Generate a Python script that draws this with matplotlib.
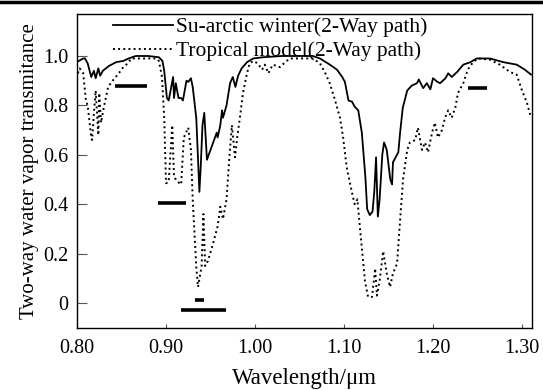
import matplotlib
matplotlib.use('Agg')
import matplotlib.pyplot as plt
from matplotlib.lines import Line2D

plt.rcParams['font.family'] = ['Liberation Serif', 'DejaVu Serif']
plt.rcParams['mathtext.fontset'] = 'stix'

# Sub-arctic winter, 2-way path (solid)
arctic_wl = [0.802, 0.807, 0.809, 0.812, 0.816, 0.819, 0.821, 0.824, 0.826, 0.829,
             0.836, 0.844, 0.852, 0.858, 0.866, 0.880, 0.892, 0.896, 0.898, 0.901,
             0.903, 0.908, 0.909, 0.911, 0.914, 0.917, 0.919, 0.923, 0.925, 0.928,
             0.930, 0.934, 0.936, 0.9375, 0.939, 0.941, 0.943, 0.946, 0.950, 0.953,
             0.957, 0.958, 0.961, 0.963, 0.964, 0.968, 0.972, 0.975, 0.978, 0.981,
             0.985, 0.991, 0.998, 1.009, 1.030, 1.065, 1.073, 1.084, 1.092, 1.098,
             1.101, 1.105, 1.109, 1.112, 1.116, 1.120, 1.124, 1.126, 1.129, 1.132,
             1.134, 1.136, 1.138, 1.140, 1.143, 1.145, 1.148, 1.152, 1.154, 1.155,
             1.161, 1.163, 1.166, 1.171, 1.176, 1.182, 1.184, 1.189, 1.193, 1.197,
             1.200, 1.205, 1.208, 1.214, 1.217, 1.221, 1.227, 1.234, 1.242, 1.249,
             1.264, 1.279, 1.294, 1.303, 1.310]
arctic_tr = [0.98, 0.99, 0.99, 0.97, 0.915, 0.94, 0.91, 0.95, 0.92, 0.94,
             0.96, 0.975, 0.98, 0.99, 1.0, 1.0, 0.995, 0.98, 0.94, 0.83,
             0.82, 0.915, 0.83, 0.89, 0.83, 0.83, 0.82, 0.90, 0.895, 0.91,
             0.875, 0.75, 0.58, 0.45, 0.55, 0.72, 0.77, 0.58, 0.62, 0.65,
             0.69, 0.67, 0.72, 0.78, 0.75, 0.80, 0.89, 0.915, 0.875, 0.92,
             0.95, 0.975, 0.99, 0.995, 1.0, 1.0, 0.99, 0.965, 0.945, 0.915,
             0.895, 0.82, 0.815, 0.795, 0.78, 0.69, 0.51, 0.38, 0.356, 0.37,
             0.45, 0.59, 0.35, 0.42, 0.60, 0.65, 0.62, 0.50, 0.48, 0.57,
             0.61, 0.69, 0.79, 0.86, 0.88, 0.89, 0.905, 0.87, 0.89, 0.865,
             0.91, 0.895, 0.89, 0.91, 0.93, 0.915, 0.935, 0.965, 0.975, 0.99,
             0.99, 0.975, 0.965, 0.945, 0.925]

# Tropical model, 2-way path (dotted)
tropic_wl = [0.801, 0.803, 0.807, 0.810, 0.812, 0.816, 0.817, 0.819, 0.821, 0.824,
             0.825, 0.827, 0.830, 0.835, 0.840, 0.847, 0.852, 0.857, 0.861, 0.889,
             0.892, 0.8955, 0.898, 0.900, 0.903, 0.907, 0.909, 0.9135, 0.917, 0.920,
             0.925, 0.928, 0.930, 0.934, 0.936, 0.940, 0.942, 0.944, 0.947, 0.952,
             0.955, 0.958, 0.961, 0.964, 0.968, 0.971, 0.974, 0.9775, 0.980, 0.983,
             0.9865, 0.991, 0.994, 0.998, 1.003, 1.008, 1.011, 1.015, 1.020, 1.028,
             1.034, 1.039, 1.065, 1.073, 1.079, 1.084, 1.090, 1.0955, 1.099, 1.103,
             1.107, 1.110, 1.112, 1.115, 1.118, 1.1235, 1.127, 1.1315, 1.135, 1.137,
             1.140, 1.144, 1.148, 1.1517, 1.155, 1.1596, 1.1629, 1.1663, 1.171, 1.174,
             1.180, 1.183, 1.1876, 1.191, 1.1944, 1.1989, 1.202, 1.2056, 1.210, 1.2135,
             1.217, 1.221, 1.225, 1.228, 1.234, 1.239, 1.245, 1.2506, 1.264, 1.275,
             1.2865, 1.294, 1.300, 1.3056, 1.310]
tropic_tr = [0.93, 0.95, 0.93, 0.82, 0.80, 0.67, 0.66, 0.77, 0.86, 0.68,
             0.85, 0.73, 0.79, 0.875, 0.90, 0.93, 0.955, 0.97, 0.99, 0.99,
             0.98, 0.915, 0.75, 0.485, 0.49, 0.72, 0.51, 0.49, 0.48, 0.67,
             0.71, 0.62, 0.42, 0.146, 0.065, 0.15, 0.36, 0.15, 0.17, 0.23,
             0.27, 0.31, 0.39, 0.34, 0.42, 0.58, 0.72, 0.59, 0.67, 0.75,
             0.85, 0.93, 0.97, 0.98, 0.97, 0.945, 0.965, 0.93, 0.965, 0.955,
             0.975, 0.99, 0.99, 0.97, 0.93, 0.89, 0.82, 0.75, 0.67, 0.55,
             0.48, 0.43, 0.40, 0.42, 0.30, 0.09, 0.025, 0.025, 0.14, 0.03,
             0.09, 0.21, 0.12, 0.065, 0.12, 0.16, 0.33, 0.50, 0.62, 0.65,
             0.66, 0.71, 0.62, 0.65, 0.61, 0.69, 0.73, 0.67, 0.70, 0.75,
             0.78, 0.75, 0.79, 0.85, 0.89, 0.945, 0.975, 0.99, 0.985, 0.965,
             0.935, 0.925, 0.86, 0.81, 0.75]

# thick band markers (start, end, level)
band_start = [0.843, 0.891, 0.9326, 0.917, 1.2393]
band_end = [0.879, 0.9225, 0.9427, 0.9674, 1.2607]
band_level = [0.88, 0.405, 0.012, -0.028, 0.87]

xticks = [0.80, 0.90, 1.00, 1.10, 1.20, 1.30]
xtick_labels = ['0.80', '0.90', '1.00', '1.10', '1.20', '1.30']
yticks = [0, 0.2, 0.4, 0.6, 0.8, 1.0]
ytick_labels = ['0', '0.2', '0.4', '0.6', '0.8', '1.0']

fig = plt.figure(figsize=(5.43, 3.9), dpi=100)
ax = fig.add_axes([77 / 543, 1 - 328 / 390, 455 / 543, 314 / 390])

ax.plot(arctic_wl, arctic_tr, '-', color='black', lw=1.3,
        label='Su-arctic winter(2-Way path)')
ax.plot(tropic_wl, tropic_tr, ':', color='black', lw=1.4,
        label='Tropical model(2-Way path)')
for s, e, lv in zip(band_start, band_end, band_level):
    ax.plot([s, e], [lv, lv], '-', color='black', lw=2.6, solid_capstyle='butt')

ax.set_xlim(0.8, 1.3112)
ax.set_ylim(-0.101, 1.17)
ax.set_xticks(xticks)
ax.set_xticklabels(xtick_labels)
ax.set_yticks(yticks)
ax.set_yticklabels(ytick_labels)
ax.tick_params(axis='x', direction='in', length=3, width=0.8, color='#555555',
               labelsize=14.5, pad=8)
ax.tick_params(axis='y', direction='in', length=7, width=0.8, color='#555555',
               labelsize=14.5, pad=6)
for sp in ax.spines.values():
    sp.set_linewidth(1.0)

ax.set_xlabel('Wavelength/\u03bcm', fontsize=16.5, labelpad=7)
ax.set_ylabel('Two-way water vapor transmitance', fontsize=15, labelpad=3)

ax.legend(loc='upper left', bbox_to_anchor=(113 / 543, 1 - 17 / 390),
          bbox_transform=fig.transFigure, frameon=False, fontsize=15.5,
          handlelength=2.8, handletextpad=0.12, labelspacing=0.2,
          borderaxespad=0, borderpad=0)

fig.add_artist(Line2D([0, 1], [1 - 2 / 390, 1 - 2 / 390], color='black', lw=2.5))

fig.savefig('out.png', dpi=100)
